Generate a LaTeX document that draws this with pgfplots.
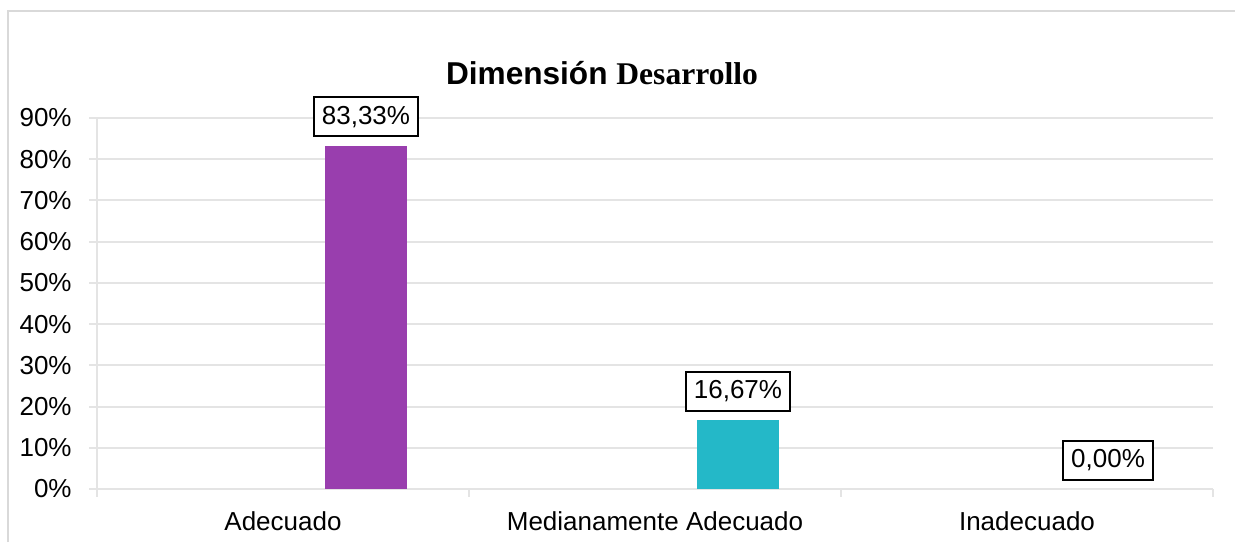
\documentclass[border=0pt]{standalone}
\usepackage{fontspec}
\setmainfont{Liberation Sans}
\newfontfamily\tnr{Liberation Serif}
\usepackage{pgfplots}
\pgfplotsset{compat=1.18}
\definecolor{barpurple}{HTML}{993EAE}
\definecolor{barcyan}{HTML}{24B8C8}
\definecolor{gridgray}{HTML}{E4E4E4}
\definecolor{framegray}{HTML}{D9D9D9}
\begin{document}
\fontsize{13}{15.6}\selectfont
\begin{tikzpicture}
\useasboundingbox (0,0) rectangle (617.5pt,271pt);
\draw[framegray, line width=1pt] (4pt,0pt) -- (4pt,265.5pt) -- (617.5pt,265.5pt);
\node[font=\fontsize{15.8}{18}\selectfont\bfseries] at (301pt,234.5pt) {Dimensión {\tnr Desarrollo}};
\begin{axis}[
  at={(48.5pt,26.5pt)}, anchor=south west,
  width=558pt, height=185.5pt, scale only axis,
  xmin=-0.5, xmax=2.5, ymin=0, ymax=90,
  axis x line*=bottom, axis y line*=left,
  axis line style={-, gridgray, line width=1pt},
  tick align=outside,
  major tick length=4pt,
  ytick={0,10,20,30,40,50,60,70,80,90},
  yticklabels={0\%,10\%,20\%,30\%,40\%,50\%,60\%,70\%,80\%,90\%},
  ytick style={draw=gridgray, line width=1pt},
  ymajorgrids,
  grid style={gridgray, line width=1pt},
  xtick={0,1,2},
  xticklabels={Adecuado,Medianamente Adecuado,Inadecuado},
  xtick style={draw=none},
  extra x ticks={-0.5,0.5,1.5,2.5},
  extra x tick labels={},
  extra x tick style={xtick style={draw=gridgray, line width=1pt}},
  yticklabel style={inner sep=0pt, xshift=-8.5pt},
  xticklabel style={inner sep=0pt, yshift=-7pt},
  /pgf/number format/assume math mode=true,
  clip=false,
  nodes near coords={\pgfmathprintnumber[fixed,fixed zerofill,precision=2,use comma]{\pgfplotspointmeta}\%},
  nodes near coords style={draw=black, line width=0.8pt, fill=white, inner xsep=4pt,
    inner ysep=0pt, minimum height=19.5pt, anchor=south, yshift=4.25pt, text=black},
]
\addplot[ybar, bar width=41pt, bar shift=0pt, fill=barpurple, draw=none] coordinates {(0.223,83.33)};
\addplot[ybar, bar width=41pt, bar shift=0pt, fill=barcyan, draw=none] coordinates {(1.223,16.67)};
\addplot[ybar, bar width=41pt, bar shift=0pt, fill=white, draw=none] coordinates {(2.218,0)};
\end{axis}
\end{tikzpicture}
\end{document}
